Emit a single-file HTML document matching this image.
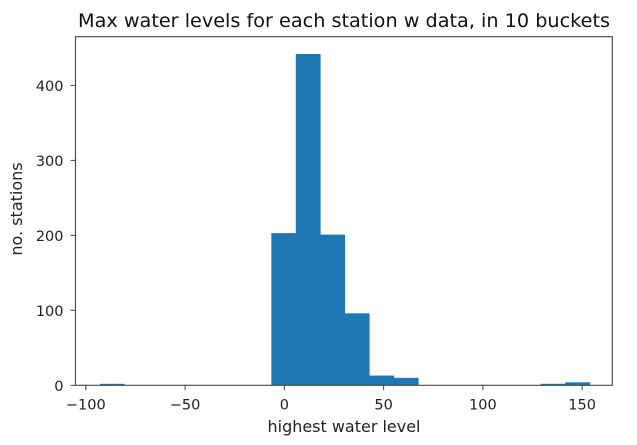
<!DOCTYPE html>
<html><head><meta charset="utf-8"><style>
html,body{margin:0;padding:0;background:#fff;}
svg{display:block;font-family:"DejaVu Sans","Liberation Sans",sans-serif;}
</style></head><body>
<svg id="chart" width="637" height="445" viewBox="0 0 637 445">
<g id="bars"></g>
<g id="axes"></g>
<text x="344" y="27" font-size="19" text-anchor="middle" fill="#111" textLength="532" lengthAdjust="spacingAndGlyphs">Max water levels for each station w data, in 10 buckets</text>
<text x="344" y="432" font-size="16" text-anchor="middle" fill="#222" textLength="153" lengthAdjust="spacingAndGlyphs">highest water level</text>
<text transform="translate(22,209) rotate(-90)" font-size="16" text-anchor="middle" fill="#222">no. stations</text>
</svg>
<script>
const binStart = -92.9;
const binEnd = 153.8;
const counts = [2,0,0,0,0,0,0,203,442,201,96,13,10,0,0,0,0,0,2,4];
const xTicks = [-100,-50,0,50,100,150];
const xTickLabels = ["\u2212100","\u221250","0","50","100","150"];
const yTicks = [0,100,200,300,400];
const yTickLabels = ["0","100","200","300","400"];

const L=75.5,R=612.3,T=36.7,B=385.3;
const xMin=-105.2,xMax=165.2,yMax=465;
function sx(v){return L+(v-xMin)/(xMax-xMin)*(R-L);}
function sy(v){return B-v/yMax*(B-T);}
const NS="http://www.w3.org/2000/svg";
const bars=document.getElementById('bars');
const axes=document.getElementById('axes');
const w=(binEnd-binStart)/counts.length;
counts.forEach((c,i)=>{
  if(c<=0)return;
  const r=document.createElementNS(NS,'rect');
  const x0=sx(binStart+i*w),x1=sx(binStart+(i+1)*w);
  r.setAttribute('x',x0);r.setAttribute('width',x1-x0+0.3);
  r.setAttribute('y',sy(c));r.setAttribute('height',B-sy(c));
  r.setAttribute('fill','#1f77b4');
  
  
  bars.appendChild(r);
});
const frame=document.createElementNS(NS,'rect');
frame.setAttribute('x',L);frame.setAttribute('y',T);
frame.setAttribute('width',R-L);frame.setAttribute('height',B-T);
frame.setAttribute('fill','none');frame.setAttribute('stroke','#444');frame.setAttribute('stroke-width','1.1');


axes.appendChild(frame);
xTicks.forEach((v,i)=>{
  const x=sx(v);
  const l=document.createElementNS(NS,'line');
  l.setAttribute('x1',x);l.setAttribute('x2',x);l.setAttribute('y1',B);l.setAttribute('y2',B+5);
  l.setAttribute('stroke','#444');
  
  
  axes.appendChild(l);
  const t=document.createElementNS(NS,'text');
  t.setAttribute('x',x);t.setAttribute('y',B+24);t.setAttribute('font-size','14.5');
  t.setAttribute('text-anchor','middle');t.setAttribute('fill','#222');
  t.textContent=xTickLabels[i];
  
  
  axes.appendChild(t);
});
yTicks.forEach((v,i)=>{
  const y=sy(v);
  const l=document.createElementNS(NS,'line');
  l.setAttribute('x1',L-5);l.setAttribute('x2',L);l.setAttribute('y1',y);l.setAttribute('y2',y);
  l.setAttribute('stroke','#444');
  
  
  axes.appendChild(l);
  const t=document.createElementNS(NS,'text');
  t.setAttribute('x',L-12);t.setAttribute('y',y+5.5);t.setAttribute('font-size','14.5');
  t.setAttribute('text-anchor','end');t.setAttribute('fill','#222');
  t.textContent=yTickLabels[i];
  
  
  axes.appendChild(t);
});
</script>
</body></html>
